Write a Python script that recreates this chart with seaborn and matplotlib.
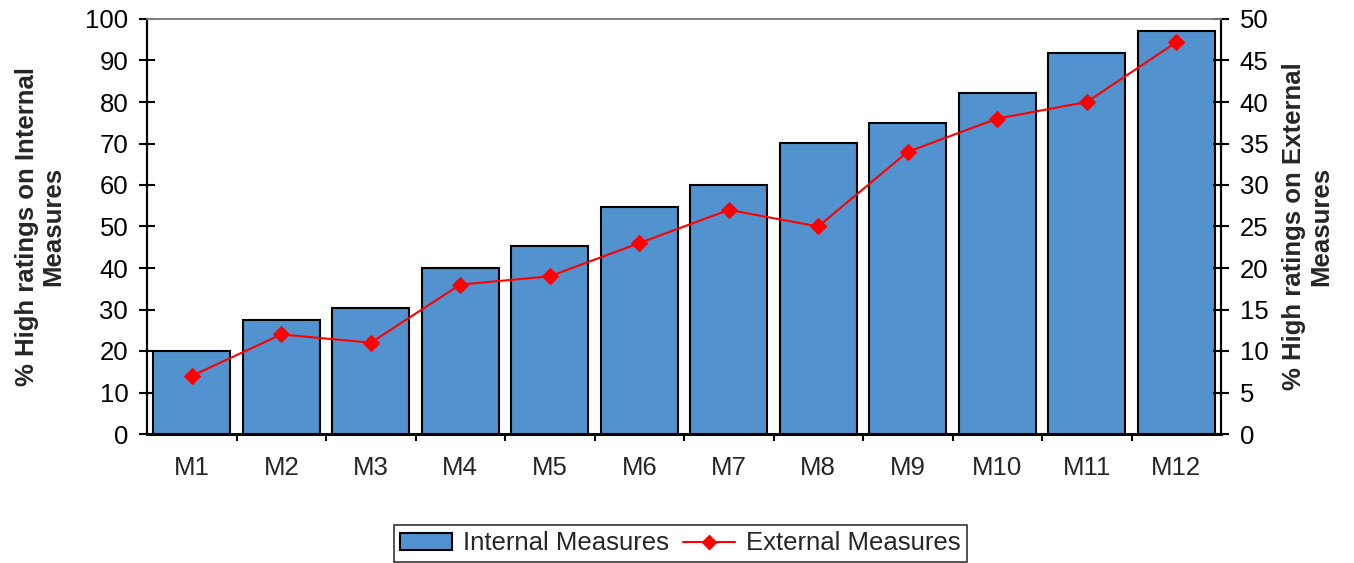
import numpy as np
import pandas as pd
import matplotlib
matplotlib.use("Agg")
import matplotlib.pyplot as plt
import seaborn as sns
from matplotlib.patches import Patch
from matplotlib.lines import Line2D

categories = ["M1", "M2", "M3", "M4", "M5", "M6", "M7", "M8", "M9", "M10", "M11", "M12"]
internal = [20, 27.5, 30.3, 40, 45.2, 54.8, 60, 70.1, 75, 82.2, 91.8, 97]
external = [7, 12, 11, 18, 19, 23, 27, 25, 34, 38, 40, 47.2]
left_ticks = list(range(0, 101, 10))
right_ticks = list(range(0, 51, 5))

sns.set_theme(style="white")
plt.rcParams["font.family"] = ["Liberation Sans", "DejaVu Sans"]

bar_color = "#5292CE"
line_color = "#FF0000"
fs = 18.5

fig = plt.figure(figsize=(13.54, 5.63), dpi=100)
ax = fig.add_axes([147 / 1354, 129 / 563, 1074 / 1354, 415 / 563])

df = pd.DataFrame({"measure": categories, "internal": internal})
sns.barplot(data=df, x="measure", y="internal", ax=ax, color=bar_color,
            saturation=1, width=0.86, edgecolor="black", linewidth=1.5)
ax.set_xlim(-0.5, len(categories) - 0.5)
ax.set_ylim(0, 100)
ax.set_yticks(left_ticks)
ax.set_xlabel("")
ax.set_ylabel("% High ratings on Internal\nMeasures", fontsize=fs, fontweight="bold",
              labelpad=14, linespacing=1.15)
ax.tick_params(axis="y", labelsize=fs, direction="inout", length=11, width=1.5,
               left=True, pad=8, colors="black")
ax.tick_params(axis="x", labelsize=fs, length=0, pad=16)
# category separators along the x axis
ax.set_xticks(np.arange(len(categories) - 1) + 0.5, minor=True)
ax.tick_params(axis="x", which="minor", direction="out", length=5, width=1.5,
               bottom=True, color="black")

ax2 = ax.twinx()
sns.lineplot(x=np.arange(len(categories)), y=external, ax=ax2, color=line_color,
             marker="D", markersize=8, markeredgecolor=line_color, linewidth=1.5)
ax2.set_ylim(0, 50)
ax2.set_yticks(right_ticks)
ax2.set_xlim(-0.5, len(categories) - 0.5)
ax2.set_ylabel("% High ratings on External\nMeasures", fontsize=fs, fontweight="bold",
               labelpad=10, linespacing=1.15)
ax2.tick_params(axis="y", labelsize=fs, direction="inout", length=11, width=1.5,
                right=True, pad=8, colors="black")
ax2.grid(False)
ax.grid(False)

for a in (ax, ax2):
    for side in ("left", "right"):
        a.spines[side].set_color("black")
        a.spines[side].set_linewidth(1.5)
    a.spines["bottom"].set_color("black")
    a.spines["bottom"].set_linewidth(2)
    a.spines["top"].set_color("#808080")
    a.spines["top"].set_linewidth(1.3)

handles = [
    Patch(facecolor=bar_color, edgecolor="black", linewidth=1.5, label="Internal Measures"),
    Line2D([0], [0], color=line_color, marker="D", markersize=7, linewidth=1.5,
           label="External Measures"),
]
leg = fig.legend(handles=handles, loc="lower center", bbox_to_anchor=(0.5026, 0.002),
                 ncol=2, fontsize=fs, frameon=True, fancybox=False, edgecolor="black",
                 handlelength=2.0, handleheight=0.6, columnspacing=0.55,
                 handletextpad=0.45, borderpad=0.25, borderaxespad=0)
leg.get_frame().set_linewidth(1.2)

fig.savefig("out.png", dpi=100, facecolor="white")
